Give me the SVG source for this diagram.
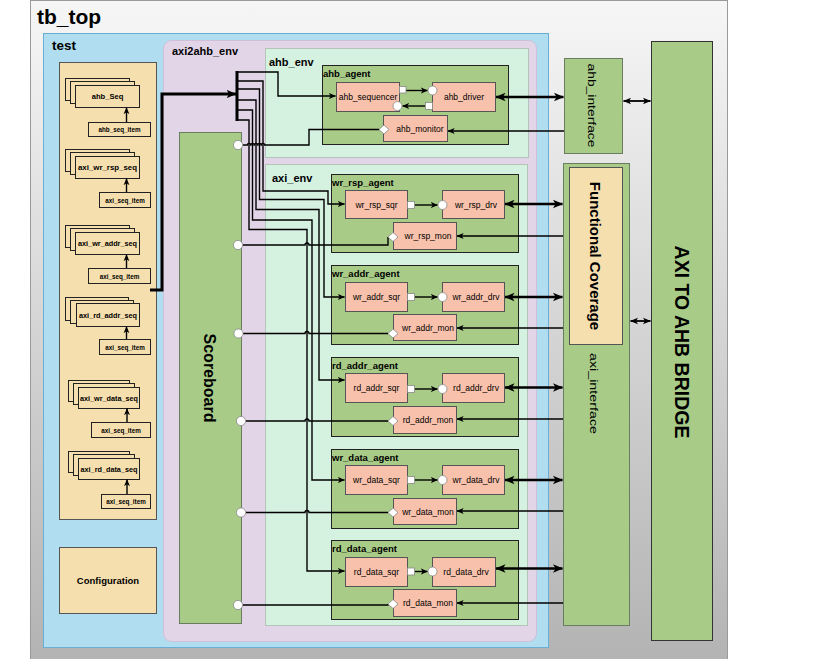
<svg xmlns="http://www.w3.org/2000/svg" width="816" height="659" viewBox="0 0 816 659">
<defs>
<linearGradient id="gTop" x1="0" y1="0" x2="0" y2="1">
<stop offset="0" stop-color="#f6f6f6"/>
<stop offset="1" stop-color="#b2b2b2"/>
</linearGradient>
<marker id="a" viewBox="0 0 10 10" refX="9.5" refY="5" markerWidth="7" markerHeight="7" markerUnits="userSpaceOnUse" orient="auto-start-reverse">
<path d="M0,0.8 L10,5 L0,9.2 L2.6,5 z" fill="#000"/>
</marker>
<marker id="at" viewBox="0 0 10 10" refX="9.5" refY="5" markerWidth="10" markerHeight="10" markerUnits="userSpaceOnUse" orient="auto-start-reverse">
<path d="M0,0.8 L10,5 L0,9.2 L2.6,5 z" fill="#000"/>
</marker>
<marker id="am" viewBox="0 0 10 10" refX="9.5" refY="5" markerWidth="8" markerHeight="8" markerUnits="userSpaceOnUse" orient="auto-start-reverse">
<path d="M0,0.8 L10,5 L0,9.2 L2.6,5 z" fill="#000"/>
</marker>
</defs>
<style>
text{font-family:"Liberation Sans",Arial,sans-serif;fill:#000}
.b{font-weight:bold}
.tan{fill:#f6dfae;stroke:#555;stroke-width:1}
.seq{fill:#f6dfae;stroke:#222;stroke-width:1}
.grn{fill:#a8cc88;stroke:#6b7d60;stroke-width:1}
.agt{fill:#a8cc88;stroke:#222;stroke-width:1}
.mint{fill:#d5f1e0;stroke:#b5c4ba;stroke-width:1}
.sal{fill:#f8c1ab;stroke:#555;stroke-width:1}
.port{fill:#fff;stroke:#888;stroke-width:0.8}
.ln{fill:none;stroke:#000;stroke-width:1.4}
.ls{fill:none;stroke:#000;stroke-width:1.4;marker-end:url(#a)}
.lt{fill:none;stroke:#000;stroke-width:2.6;marker-start:url(#at);marker-end:url(#at)}
.lm{fill:none;stroke:#000;stroke-width:1.8;marker-start:url(#am);marker-end:url(#am)}
.nt{font-size:8.5px;text-anchor:middle}
.st{font-size:7.6px;font-weight:bold;text-anchor:middle}
.it{font-size:6.3px;font-weight:bold;text-anchor:middle}
.al{font-size:9.5px;font-weight:bold}
</style>

<g id="tb_top">
<rect x="30.5" y="0.5" width="697" height="670" fill="url(#gTop)" stroke="#9a9a9a"/>
<text x="37" y="24" class="b" font-size="21">tb_top</text>
</g>

<g id="test">
<rect x="43.5" y="33.5" width="505" height="614" fill="#b1ddf0" stroke="#6aaed6"/>
<text x="52" y="50" class="b" font-size="13.5">test</text>
</g>

<g id="axi2ahb_env">
<rect x="163.5" y="40.5" width="373" height="601" rx="8" fill="#e2d5e7" stroke="#cfbfd8"/>
<text x="172" y="55" class="b" font-size="11">axi2ahb_env</text>
</g>

<g id="sequences">
<rect x="59.5" y="62.5" width="97" height="457" class="tan"/>
</g>

<g id="ahb_Seq">
<rect x="65.5" y="78.5" width="64" height="22" class="seq"/>
<rect x="70.5" y="81.5" width="64" height="22" class="seq"/>
<rect x="75.5" y="85.5" width="64" height="22" class="seq"/>
<text x="107.5" y="99" class="st" font-size="8">ahb_Seq</text>
</g>
<g id="ahb_seq_item">
<rect x="88.5" y="122.5" width="62" height="14" class="seq"/>
<text x="119.5" y="132" class="it">ahb_seq_item</text>
</g>

<g id="axi_wr_rsp_seq">
<rect x="65.5" y="149.5" width="64" height="22" class="seq"/>
<rect x="70.5" y="152.5" width="64" height="22" class="seq"/>
<rect x="75.5" y="156.5" width="64" height="22" class="seq"/>
<text x="107.5" y="170" class="st" textLength="59" lengthAdjust="spacingAndGlyphs">axi_wr_rsp_seq</text>
</g>
<g id="axi_seq_item_1">
<rect x="99.5" y="192.5" width="51" height="15" class="seq"/>
<text x="125" y="202.5" class="it">axi_seq_item</text>
</g>

<g id="axi_wr_addr_seq">
<rect x="65.5" y="225.5" width="64" height="22" class="seq"/>
<rect x="70.5" y="228.5" width="64" height="22" class="seq"/>
<rect x="75.5" y="232.5" width="64" height="22" class="seq"/>
<text x="107.5" y="246" class="st" textLength="59" lengthAdjust="spacingAndGlyphs">axi_wr_addr_seq</text>
</g>
<g id="axi_seq_item_2">
<rect x="88.5" y="268.5" width="62" height="15" class="seq"/>
<text x="119.5" y="278.5" class="it">axi_seq_item</text>
</g>

<g id="axi_rd_addr_seq">
<rect x="65.5" y="297.5" width="63" height="23" class="seq"/>
<rect x="70.5" y="300.5" width="63" height="23" class="seq"/>
<rect x="76.5" y="303.5" width="63" height="23" class="seq"/>
<text x="108" y="317.5" class="st" textLength="58" lengthAdjust="spacingAndGlyphs">axi_rd_addr_seq</text>
</g>
<g id="axi_seq_item_3">
<rect x="99.5" y="339.5" width="51" height="15" class="seq"/>
<text x="125" y="349.5" class="it">axi_seq_item</text>
</g>

<g id="axi_wr_data_seq">
<rect x="68.5" y="380.5" width="61" height="21" class="seq"/>
<rect x="73.5" y="383.5" width="61" height="21" class="seq"/>
<rect x="78.5" y="387.5" width="61" height="21" class="seq"/>
<text x="109" y="400.5" class="st" textLength="58" lengthAdjust="spacingAndGlyphs">axi_wr_data_seq</text>
</g>
<g id="axi_seq_item_4">
<rect x="91.5" y="422.5" width="59" height="15" class="seq"/>
<text x="121" y="432.5" class="it">axi_seq_item</text>
</g>

<g id="axi_rd_data_seq">
<rect x="68.5" y="451.5" width="61" height="21" class="seq"/>
<rect x="73.5" y="454.5" width="61" height="21" class="seq"/>
<rect x="78.5" y="458.5" width="61" height="21" class="seq"/>
<text x="109" y="471.5" class="st" textLength="57" lengthAdjust="spacingAndGlyphs">axi_rd_data_seq</text>
</g>
<g id="axi_seq_item_5">
<rect x="101.5" y="494.5" width="49" height="14" class="seq"/>
<text x="126" y="504" class="it">axi_seq_item</text>
</g>

<g id="configuration">
<rect x="59.5" y="547.5" width="97" height="66" class="tan"/>
<text x="108" y="584" class="b" font-size="9.5" text-anchor="middle">Configuration</text>
</g>

<g id="scoreboard">
<rect x="179.5" y="132.5" width="62" height="491" class="grn"/>
<text transform="translate(209.5,378) rotate(90)" x="0" y="5.6" class="b" font-size="16" text-anchor="middle">Scoreboard</text>
</g>

<g id="ahb_env">
<rect x="265.5" y="48.5" width="263" height="109" class="mint"/>
<text x="269" y="66" class="b" font-size="11">ahb_env</text>
</g>
<g id="ahb_agent">
<rect x="322.5" y="65.5" width="186" height="79" class="agt"/>
<text x="323" y="77" class="al">ahb_agent</text>
</g>

<g id="axi_env">
<rect x="265.5" y="164.5" width="262" height="461" class="mint"/>
<text x="272" y="182" class="b" font-size="11">axi_env</text>
</g>
<g id="wr_rsp_agent">
<rect x="331.5" y="174.5" width="187" height="78" class="agt"/>
<text x="332" y="186" class="al">wr_rsp_agent</text>
</g>
<g id="wr_addr_agent">
<rect x="331.5" y="265.5" width="187" height="79" class="agt"/>
<text x="332" y="277" class="al">wr_addr_agent</text>
</g>
<g id="rd_addr_agent">
<rect x="331.5" y="357.5" width="187" height="79" class="agt"/>
<text x="332" y="369" class="al">rd_addr_agent</text>
</g>
<g id="wr_data_agent">
<rect x="331.5" y="449.5" width="187" height="79" class="agt"/>
<text x="332" y="461" class="al">wr_data_agent</text>
</g>
<g id="rd_data_agent">
<rect x="331.5" y="540.5" width="187" height="79" class="agt"/>
<text x="332" y="552" class="al">rd_data_agent</text>
</g>

<g id="ahb_interface">
<rect x="564.5" y="58.5" width="58" height="95" class="grn"/>
<text transform="translate(592,105.5) rotate(90)" x="0" y="4" font-size="11.5" text-anchor="middle" textLength="84" lengthAdjust="spacingAndGlyphs">ahb_interface</text>
</g>

<g id="axi_interface">
<rect x="563.5" y="163.5" width="66" height="462" class="grn"/>
<text transform="translate(594,393.5) rotate(90)" x="0" y="4" font-size="11.5" text-anchor="middle" textLength="81" lengthAdjust="spacingAndGlyphs">axi_interface</text>
</g>
<g id="functional_coverage">
<rect x="569.5" y="167.5" width="53" height="177" class="tan"/>
<text transform="translate(595.5,256) rotate(90)" x="0" y="5.3" class="b" font-size="15" text-anchor="middle">Functional Coverage</text>
</g>

<g id="axi_to_ahb_bridge">
<rect x="651.5" y="41.5" width="61" height="599" fill="#a8cc88" stroke="#333"/>
<text transform="translate(682,342) rotate(90)" x="0" y="7" class="b" font-size="19.5" text-anchor="middle">AXI TO AHB BRIDGE</text>
</g>

<g id="connectors">
<path d="M150,290 H162 V94 H236" fill="none" stroke="#000" stroke-width="3" marker-end="url(#at)"/>
<path d="M237,71 V121" fill="none" stroke="#000" stroke-width="3"/>
<path class="ls" d="M237,72 H278 V96 H335.5"/>
<path class="ls" d="M237,81 H263 V191 H328 V204 H344.5"/>
<path class="ls" d="M237,89 H259.5 V199.5 H324 V297 H344.5"/>
<path class="ls" d="M237,100 H256 V209.5 H319 V380 H344.5"/>
<path class="ls" d="M237,110 H252.5 V220 H312 V480 H344.5"/>
<path class="ls" d="M237,120 H249 V229.5 H307 V571 H344.5"/>
<path class="ls" d="M126.5,122 V107.5"/>
<path class="ls" d="M126.5,192 V178.5"/>
<path class="ls" d="M126.5,268 V254.5"/>
<path class="ls" d="M126.5,339 V326.5"/>
<path class="ls" d="M127,422 V408.5"/>
<path class="ls" d="M127,494 V479.5"/>
<path class="ln" d="M243,145 H247.4 a1.6,1.6 0 0 1 3.2,0 H250.9 a1.6,1.6 0 0 1 3.2,0 H254.4 a1.6,1.6 0 0 1 3.2,0 H257.9 a1.6,1.6 0 0 1 3.2,0 H261.4 a1.6,1.6 0 0 1 3.2,0 H309 V129.5 H379"/>
<path class="ln" d="M243,245 H305 a2,2 0 0 1 4,0 H388 V237 H388"/>
<path class="ln" d="M243,333.5 H305 a2,2 0 0 1 4,0 H388"/>
<path class="ln" d="M246,421 H305 a2,2 0 0 1 4,0 H388"/>
<path class="ln" d="M246,512.5 H305 a2,2 0 0 1 4,0 H388"/>
<path class="ln" d="M243,605 H388 V604"/>
<path class="ls" d="M405.5,90.5 H427.5"/>
<path class="ls" d="M425,106 H402.5"/>
<path class="ls" d="M414.5,205 H437.5"/>
<path class="ls" d="M414.5,297 H437.5"/>
<path class="ls" d="M414.5,389 H437.5"/>
<path class="ls" d="M414.5,480 H437.5"/>
<path class="ls" d="M414.5,571.5 H427.5"/>
<path class="lt" d="M496,97 H563.5"/>
<path class="lt" d="M505,204 H562.5"/>
<path class="lt" d="M505,297 H562.5"/>
<path class="lt" d="M505,387.5 H562.5"/>
<path class="lt" d="M505,480 H562.5"/>
<path class="lt" d="M496,568.5 H562.5"/>
<path class="ls" d="M564,131 H448"/>
<path class="ls" d="M563,236 H457"/>
<path class="ls" d="M563,328 H457"/>
<path class="ls" d="M563,419 H457"/>
<path class="ls" d="M563,511 H457"/>
<path class="ls" d="M563,603 H457"/>
<path class="lm" d="M623.5,101 H650.5"/>
<path class="lm" d="M630.5,321 H650.5"/>
</g>

<g id="ahb_sequencer">
<rect x="336.5" y="82.5" width="63" height="29" class="sal"/>
<text x="368" y="100" class="nt">ahb_sequencer</text>
<rect x="399.5" y="86.5" width="6.5" height="6.5" class="port"/>
<circle cx="397.5" cy="106" r="4.5" class="port"/>
</g>
<g id="ahb_driver">
<rect x="432.5" y="82.5" width="63" height="29" class="sal"/>
<text x="464" y="100" class="nt">ahb_driver</text>
<circle cx="432.5" cy="90.5" r="4.5" class="port"/>
<rect x="425.5" y="102.5" width="7" height="7" class="port"/>
</g>
<g id="ahb_monitor">
<rect x="383.5" y="115.5" width="64" height="26" class="sal"/>
<text x="420" y="131.5" class="nt">ahb_monitor</text>
<polygon points="379,129.5 384,125 389,129.5 384,134" class="port"/>
</g>

<g id="wr_rsp_sqr">
<rect x="345.5" y="190.5" width="62" height="28" class="sal"/>
<text x="376.5" y="207.5" class="nt">wr_rsp_sqr</text>
<rect x="407.5" y="201.5" width="7" height="7" class="port"/>
</g>
<g id="wr_rsp_drv">
<rect x="442.5" y="190.5" width="62" height="28" class="sal"/>
<text x="476" y="207.5" class="nt">wr_rsp_drv</text>
<circle cx="442.5" cy="205" r="4.5" class="port"/>
</g>
<g id="wr_rsp_mon">
<rect x="393.5" y="222.5" width="63" height="27" class="sal"/>
<text x="428" y="239" class="nt">wr_rsp_mon</text>
<polygon points="388,237 393,232.5 398,237 393,241.5" class="port"/>
</g>

<g id="wr_addr_sqr">
<rect x="345.5" y="282.5" width="62" height="29" class="sal"/>
<text x="376.5" y="300" class="nt">wr_addr_sqr</text>
<rect x="407.5" y="293.5" width="7" height="7" class="port"/>
</g>
<g id="wr_addr_drv">
<rect x="442.5" y="282.5" width="62" height="29" class="sal"/>
<text x="476" y="300" class="nt">wr_addr_drv</text>
<circle cx="442.5" cy="297" r="4.5" class="port"/>
</g>
<g id="wr_addr_mon">
<rect x="393.5" y="314.5" width="63" height="26" class="sal"/>
<text x="428" y="330.5" class="nt">wr_addr_mon</text>
<polygon points="388,333.5 393,329 398,333.5 393,338" class="port"/>
</g>

<g id="rd_addr_sqr">
<rect x="345.5" y="373.5" width="62" height="29" class="sal"/>
<text x="376.5" y="391" class="nt">rd_addr_sqr</text>
<rect x="407.5" y="385.5" width="7" height="7" class="port"/>
</g>
<g id="rd_addr_drv">
<rect x="442.5" y="373.5" width="62" height="29" class="sal"/>
<text x="476" y="391" class="nt">rd_addr_drv</text>
<circle cx="442.5" cy="389" r="4.5" class="port"/>
</g>
<g id="rd_addr_mon">
<rect x="393.5" y="406.5" width="63" height="27" class="sal"/>
<text x="428" y="423" class="nt">rd_addr_mon</text>
<polygon points="388,421 393,416.5 398,421 393,425.5" class="port"/>
</g>

<g id="wr_data_sqr">
<rect x="345.5" y="465.5" width="62" height="29" class="sal"/>
<text x="376.5" y="483" class="nt">wr_data_sqr</text>
<rect x="407.5" y="476.5" width="7" height="7" class="port"/>
</g>
<g id="wr_data_drv">
<rect x="442.5" y="465.5" width="62" height="29" class="sal"/>
<text x="476" y="483" class="nt">wr_data_drv</text>
<circle cx="442.5" cy="480" r="4.5" class="port"/>
</g>
<g id="wr_data_mon">
<rect x="393.5" y="498.5" width="63" height="26" class="sal"/>
<text x="428" y="514.5" class="nt">wr_data_mon</text>
<polygon points="388,512.5 393,508 398,512.5 393,517" class="port"/>
</g>

<g id="rd_data_sqr">
<rect x="345.5" y="557.5" width="62" height="29" class="sal"/>
<text x="376.5" y="575" class="nt">rd_data_sqr</text>
<rect x="407.5" y="568" width="7" height="7" class="port"/>
</g>
<g id="rd_data_drv">
<rect x="432.5" y="557.5" width="63" height="29" class="sal"/>
<text x="466" y="575" class="nt">rd_data_drv</text>
<circle cx="432.5" cy="571.5" r="4.5" class="port"/>
</g>
<g id="rd_data_mon">
<rect x="393.5" y="589.5" width="63" height="27" class="sal"/>
<text x="428" y="606" class="nt">rd_data_mon</text>
<polygon points="388,604 393,599.5 398,604 393,608.5" class="port"/>
</g>

<g id="scoreboard_ports">
<circle cx="238" cy="145" r="4.6" class="port"/>
<circle cx="238" cy="245" r="4.6" class="port"/>
<circle cx="238.5" cy="333.5" r="4.6" class="port"/>
<circle cx="241" cy="421" r="4.6" class="port"/>
<circle cx="241" cy="512.5" r="4.6" class="port"/>
<circle cx="238" cy="605" r="4.6" class="port"/>
</g>
</svg>
